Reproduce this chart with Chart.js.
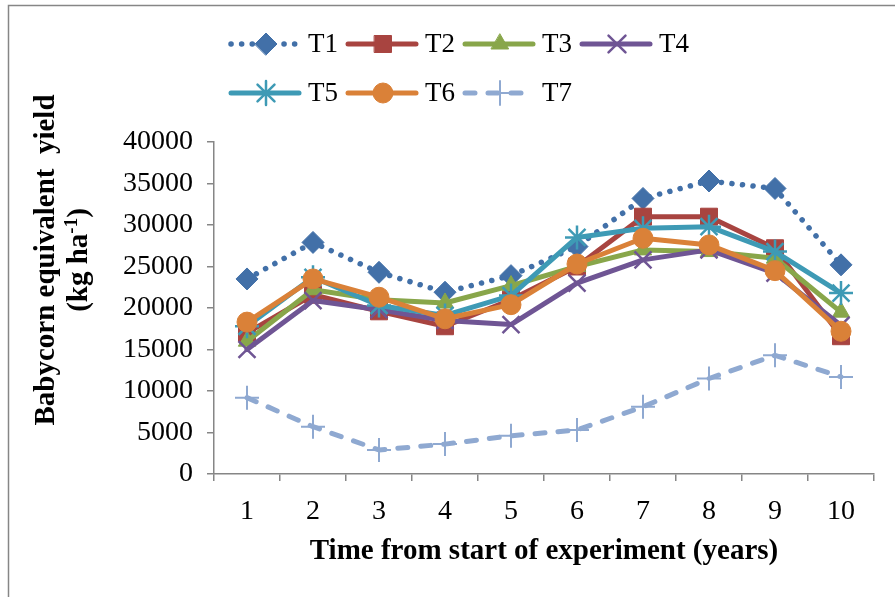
<!DOCTYPE html>
<html>
<head>
<meta charset="utf-8">
<title>Babycorn equivalent yield</title>
<script src="https://cdn.jsdelivr.net/npm/chart.js@4"></script>
<style>
  html, body { margin: 0; padding: 0; background: #fff; }
  canvas { display: block; }
</style>
</head>
<body>
<canvas id="chart" width="895" height="597"></canvas>
<script>
'use strict';

const years = ['1', '2', '3', '4', '5', '6', '7', '8', '9', '10'];

const t1 = [23500, 27900, 24300, 21900, 23900, 27400, 33200, 35300, 34400, 25200];
const t2 = [17000, 21600, 19600, 17800, 21000, 25000, 31000, 31000, 27200, 16600];
const t3 = [16000, 22200, 21000, 20600, 22700, 25000, 27000, 26800, 26000, 19500];
const t4 = [15000, 20900, 19800, 18500, 18000, 23000, 25800, 27000, 24200, 17900];
const t5 = [17800, 23700, 20300, 19100, 21500, 28500, 29600, 29800, 26800, 21800];
const t6 = [18300, 23500, 21300, 18700, 20400, 25300, 28400, 27600, 24500, 17200];
const t7 = [9200, 5700, 2900, 3600, 4600, 5300, 8100, 11500, 14300, 11700];

const yTicks = [0, 5000, 10000, 15000, 20000, 25000, 30000, 35000, 40000];

const serif = '"Liberation Serif", "Times New Roman", serif';
const axisGrey = '#868686';

function series(label, data, color, style, radius, extra) {
  return Object.assign({
    label: label,
    data: data,
    borderColor: color,
    backgroundColor: color,
    borderWidth: 5,
    borderJoinStyle: 'round',
    borderCapStyle: 'round',
    pointStyle: style,
    pointRadius: radius,
    pointBackgroundColor: color,
    pointBorderColor: color,
    pointBorderWidth: 1,
    tension: 0,
    fill: false,
  }, extra || {});
}

const datasets = [
  series('T1', t1, '#4270a8', 'rectRot', 11, { borderWidth: 5.5, borderDash: [0.1, 10.5], order: 7 }),
  series('T2', t2, '#a84440', 'rect', 12, { order: 6 }),
  series('T3', t3, '#88a64a', 'triangle', 10, { order: 5 }),
  series('T4', t4, '#6f5594', 'crossRot', 12, { pointBorderWidth: 2.5, order: 4 }),
  series('T5', t5, '#3e9ab5', 'star', 12, { pointBorderWidth: 2.5, order: 3 }),
  series('T6', t6, '#da8138', 'circle', 10, { order: 2 }),
  series('T7', t7, '#8fa9d1', 'cross', 12, { borderDash: [10, 13], pointBorderWidth: 2, order: 1 }),
];

// legend, y title and the outer frame are painted by hand
const extras = {
  id: 'extras',
  afterDraw(chart) {
    const ctx = chart.ctx;
    ctx.save();

    // frame
    ctx.strokeStyle = axisGrey;
    ctx.lineWidth = 1.5;
    ctx.beginPath();
    ctx.moveTo(8.5, 597);
    ctx.lineTo(8.5, 5.5);
    ctx.lineTo(895, 5.5);
    ctx.stroke();

    // legend: 4 items on the first row, 3 on the second
    chart.data.datasets.forEach((ds, i) => {
      const x = 231 + (i % 4) * 117;
      const y = 44 + Math.floor(i / 4) * 49;
      ctx.strokeStyle = ds.borderColor;
      ctx.lineWidth = ds.borderWidth;
      ctx.lineCap = 'round';
      ctx.setLineDash(ds.borderDash || []);
      ctx.beginPath();
      ctx.moveTo(x, y);
      ctx.lineTo(x + 68, y);
      ctx.stroke();
      ctx.setLineDash([]);
      ctx.fillStyle = ds.pointBackgroundColor;
      ctx.strokeStyle = ds.pointBorderColor;
      ctx.lineWidth = ds.pointBorderWidth;
      Chart.helpers.drawPoint(ctx, {
        pointStyle: ds.pointStyle,
        radius: ds.pointRadius,
        borderWidth: ds.pointBorderWidth,
        rotation: 0,
      }, x + 35, y);
      ctx.fillStyle = '#000';
      ctx.font = '27px ' + serif;
      ctx.textAlign = 'left';
      ctx.textBaseline = 'middle';
      ctx.fillText(ds.label, x + 77, y + 1);
    });

    // y axis title, two lines, second one with a superscript
    ctx.translate(47, 260);
    ctx.rotate(-Math.PI / 2);
    ctx.fillStyle = '#000';
    ctx.textBaseline = 'middle';
    ctx.font = 'bold 29px ' + serif;
    ctx.textAlign = 'center';
    ctx.fillText('Babycorn equivalent  yield', 0, 0);

    const base = '(kg ha', sup = '-1', close = ')';
    const bigFont = 'bold 29px ' + serif, smallFont = 'bold 19px ' + serif;
    ctx.font = bigFont;
    const wBase = ctx.measureText(base).width;
    const wClose = ctx.measureText(close).width;
    ctx.font = smallFont;
    const wSup = ctx.measureText(sup).width;
    let x = -(wBase + wSup + wClose) / 2;
    ctx.textAlign = 'left';
    ctx.font = bigFont;
    ctx.fillText(base, x, 33);
    x += wBase;
    ctx.font = smallFont;
    ctx.fillText(sup, x, 25);
    x += wSup;
    ctx.font = bigFont;
    ctx.fillText(close, x, 33);
    ctx.restore();
  },
};

const ctx = document.getElementById('chart').getContext('2d');

new Chart(ctx, {
  type: 'line',
  data: { labels: years, datasets: datasets },
  plugins: [extras],
  options: {
    responsive: false,
    animation: false,
    devicePixelRatio: 1,
    layout: { padding: { top: 142, right: 21, left: 0, bottom: 28 } },
    plugins: {
      legend: { display: false },
      tooltip: { enabled: false },
    },
    scales: {
      x: {
        offset: true,
        afterFit: (scale) => { scale.height = 95; },
        border: { color: axisGrey, width: 1.5 },
        grid: { offset: true, drawOnChartArea: false, tickLength: 7, color: axisGrey, lineWidth: 1.5 },
        ticks: { color: '#000', font: { family: serif, size: 28 }, padding: 14, maxRotation: 0 },
        title: {
          display: true,
          text: 'Time from start of experiment (years)',
          color: '#000',
          font: { family: serif, size: 29, weight: 'bold' },
          padding: { top: 4, bottom: 0 },
        },
      },
      y: {
        min: 0,
        max: 40000,
        afterFit: (scale) => { scale.width = 214; },
        afterBuildTicks: (scale) => { scale.ticks = yTicks.map(v => ({ value: v })); },
        border: { color: axisGrey, width: 1.5 },
        grid: { drawOnChartArea: false, tickLength: 7, color: axisGrey, lineWidth: 1.5 },
        ticks: {
          color: '#000',
          font: { family: serif, size: 28 },
          padding: 14,
          callback: (v) => String(v),
        },
      },
    },
  },
});
</script>
</body>
</html>
